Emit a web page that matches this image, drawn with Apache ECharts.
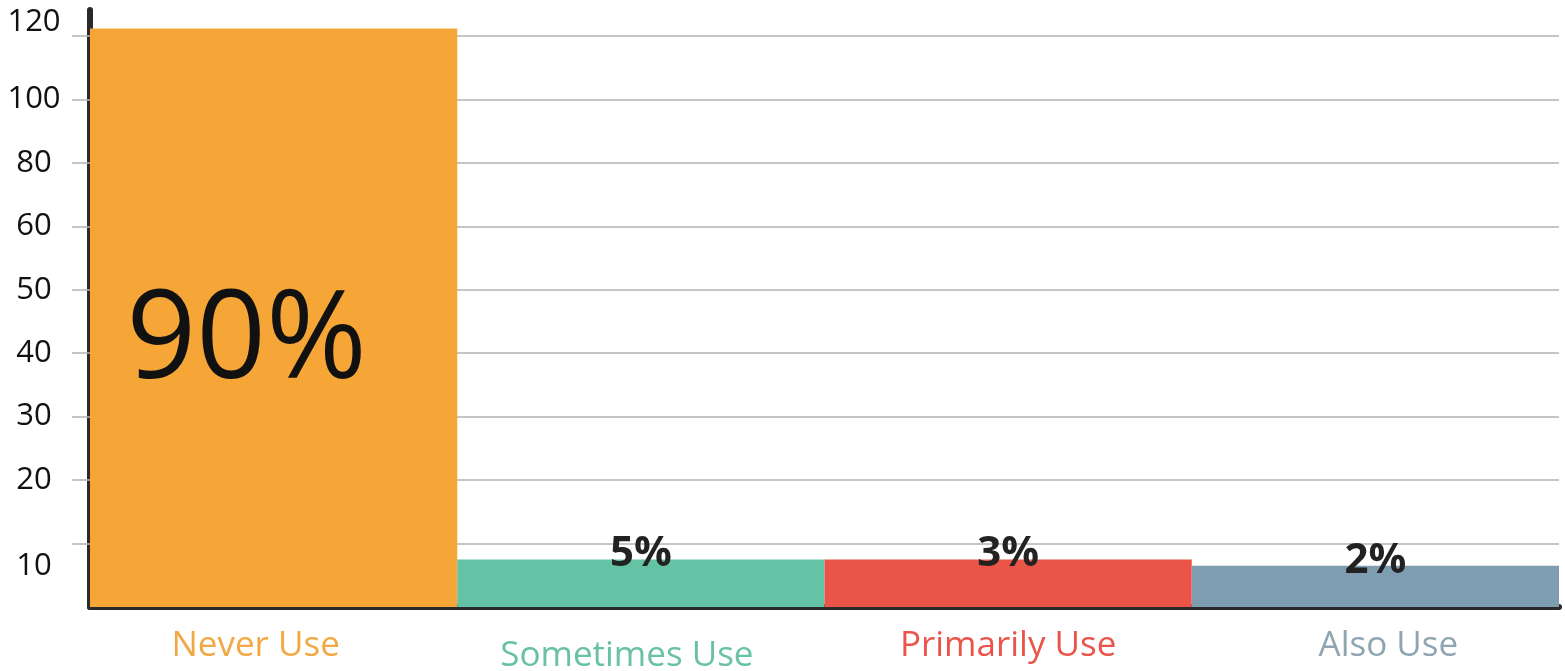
<!DOCTYPE html>
<html><head><meta charset="utf-8">
<script src="https://cdn.jsdelivr.net/npm/echarts@6/dist/echarts.min.js"></script>
<style>html,body{margin:0;padding:0;background:#fff}#c{width:1565px;height:671px}</style>
</head><body><div id="c"></div>
<script>
// ---- data ----
const categories = ['Never Use', 'Sometimes Use', 'Primarily Use', 'Also Use'];
const barValues = [122.4, 7.5, 7.5, 6.5];          // bar heights read on the chart's own y scale
const barLabels = ['90%', '5%', '3%', '2%'];
const yTickValues = [0, 10, 20, 30, 40, 50, 60, 80, 100, 120];
const yTickLabels = ['', '10', '20', '30', '40', '50', '60', '80', '100', '120'];

// ---- styles ----
const barColors = ['#F6A637', '#64C3A4', '#EB5548', '#7F9DB1'];
const catColors = ['#F2A844', '#69C2A2', '#E9554B', '#8FA5B2'];
const FONT = '"Open Sans", "Noto Sans", sans-serif';

// the y axis is non-linear: its ticks are evenly spaced, so a value maps to a tick index
function toIndex(v) {
  for (let i = 1; i < yTickValues.length; i++) {
    if (v <= yTickValues[i] || i === yTickValues.length - 1) {
      const a = yTickValues[i - 1], b = yTickValues[i];
      return (i - 1) + (v - a) / (b - a);
    }
  }
  return 0;
}
const tickIdx = yTickValues.map((_, i) => i).filter(i => i > 0);

const seriesData = barValues.map((v, i) => {
  const d = { value: toIndex(v), itemStyle: { color: barColors[i] } };
  if (i === 0) {
    d.label = { show: true, position: 'inside', formatter: barLabels[i], fontSize: 122,
      fontFamily: FONT, fontWeight: 'normal', color: '#111', offset: [-27, 26] };
  } else {
    d.label = { show: true, position: 'top', distance: -16, formatter: barLabels[i],
      fontSize: 42, lineHeight: 42, fontFamily: FONT, fontWeight: 'bold', color: '#222' };
  }
  return d;
});

const chart = echarts.init(document.getElementById('c'), null, { renderer: 'canvas' });
chart.setOption({
  animation: false,
  grid: { left: 90, right: 6, top: 10, bottom: 64, containLabel: false, outerBoundsMode: 'none' },
  xAxis: {
    type: 'category',
    data: categories,
    axisLine: { show: true, lineStyle: { color: '#2a2a2a', width: 6 } },
    axisTick: { show: false },
    axisLabel: {
      interval: 0,
      hideOverlap: false,
      margin: 22,
      fontSize: 35,
      fontFamily: FONT,
      formatter: (val, idx) => '{c' + idx + '|' + val + '}',
      rich: {
        c0: { color: catColors[0], fontSize: 35, fontFamily: FONT, padding: [0, 36, 0, 0] },
        c1: { color: catColors[1], fontSize: 35, fontFamily: FONT, padding: [10, 28, 0, 0] },
        c2: { color: catColors[2], fontSize: 35, fontFamily: FONT },
        c3: { color: catColors[3], fontSize: 35, fontFamily: FONT, padding: [0, 0, 0, 26] }
      }
    },
    splitLine: { show: false }
  },
  yAxis: {
    type: 'value',
    min: 0,
    max: 9.41,
    interval: 1,
    axisLine: { show: true, lineStyle: { color: '#2a2a2a', width: 6 } },
    axisTick: { show: true, length: 18, customValues: tickIdx, lineStyle: { color: '#b3b3b3', width: 1.5 } },
    splitLine: { show: true, lineStyle: { color: '#b3b3b3', width: 1.5 } },
    axisLabel: {
      customValues: tickIdx,
      margin: 56,
      align: 'center',
      fontSize: 31,
      fontFamily: FONT,
      color: '#111',
      formatter: (v) => {
        const i = Math.round(v);
        if (Math.abs(v - i) > 1e-6 || i <= 0 || i >= yTickLabels.length) return '';
        if (i === yTickLabels.length - 1) return '{up|' + yTickLabels[i] + '}';
        if (i === 1) return '{down|' + yTickLabels[i] + '}';
        return yTickLabels[i];
      },
      rich: {
        up: { fontSize: 31, fontFamily: FONT, color: '#111', padding: [0, 0, 28, 0] },
        down: { fontSize: 31, fontFamily: FONT, color: '#111', padding: [46, 0, 0, 0] }
      }
    }
  },
  series: [{
    type: 'bar',
    data: seriesData,
    barCategoryGap: '0%',
    z: 2
  }]
});
</script>
</body></html>
